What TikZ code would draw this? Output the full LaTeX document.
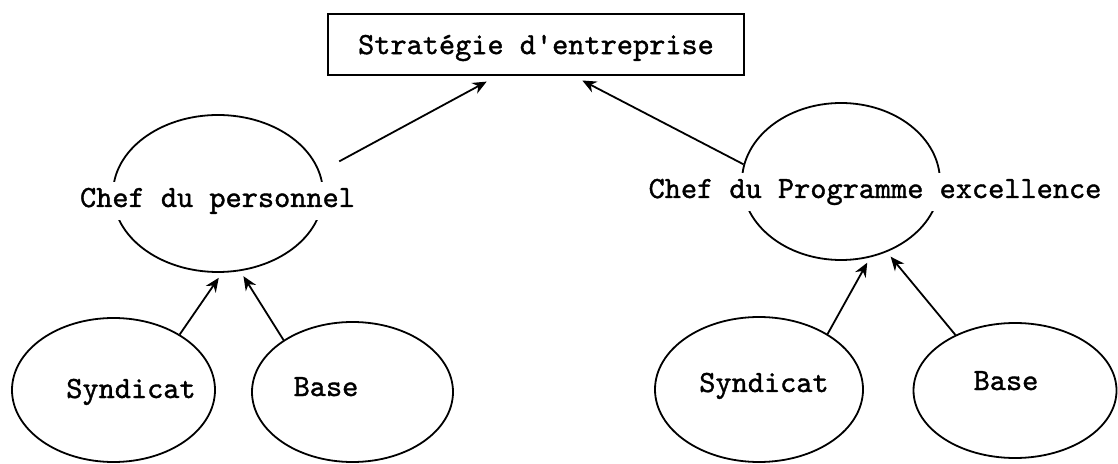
\documentclass[tikz,border=0pt]{standalone}
\usepackage{fontspec}
\newfontfamily\typew[FakeBold=1.2]{lmmono10-regular.otf}
\usepackage{tikz}
\usetikzlibrary{arrows.meta, positioning, shapes.geometric}
\tikzset{
  orgbox/.style={draw=black, line width=0.9pt, minimum width=208pt, minimum height=30.5pt,
    inner sep=0pt, text depth=0pt, font=\fontsize{15.4}{18}\selectfont\typew},
  orgell/.style={ellipse, draw=black, line width=0.9pt, inner sep=0pt},
  orgarrow/.style={-{Stealth[length=7pt, width=6pt]}, line width=0.9pt, black, shorten >=3pt},
  orglabel/.style={anchor=base, fill=white, inner sep=3pt,
    font=\fontsize{15.4}{18}\selectfont\typew},
}

\begin{document}
\begin{tikzpicture}[x=0.5pt,y=-0.5pt]
  \useasboundingbox (0,0) rectangle (1118,464);
  % Stratégie : deux chefs, chacun avec syndicat et base
  \node[orgbox] (strat) at (536,44.5) {Strat\'egie d\textquotesingle entreprise};

  \node[orgell, minimum width=105pt, minimum height=78.5pt] (chefP) at (218,193.5) {};
  \node[orgell, minimum width=99pt, minimum height=78.5pt] (chefE) at (841,181.5) {};
  \node[orgell, minimum width=101.5pt, minimum height=72pt] (synL) at (113.5,390) {};
  \node[orgell, minimum width=100.5pt, minimum height=70pt] (baseL) at (352.5,392) {};
  \node[orgell, minimum width=104pt, minimum height=72.5pt] (synR) at (759,389.5) {};
  \node[orgell, minimum width=101.5pt, minimum height=67.5pt] (baseR) at (1015,390.5) {};

  \node[orglabel] (chefPtxt) at (217.5,207) {Chef du personnel};
  \node[orglabel] (chefEtxt) at (875,198) {Chef du Programme excellence};
  \node[orglabel] (synLtxt) at (131,398) {Syndicat};
  \node[orglabel] (baseLtxt) at (326,396) {Base};
  \node[orglabel] (synRtxt) at (764,392) {Syndicat};
  \node[orglabel] (baseRtxt) at (1006,390) {Base};

  \draw[orgarrow] (synL.40) -- (chefP.-87);
  \draw[orgarrow] (baseL.143) -- (chefP.-74);
  \draw[orgarrow] (synR.39) -- (chefE.-69);
  \draw[orgarrow] (baseR.137) -- (chefE.-57);
  \draw[orgarrow, shorten <=11pt, shorten >=6pt] (chefP.12) -- (strat.-141);
  \draw[orgarrow, shorten >=5pt] (chefE.170) -- (strat.-40);
\end{tikzpicture}
\end{document}
